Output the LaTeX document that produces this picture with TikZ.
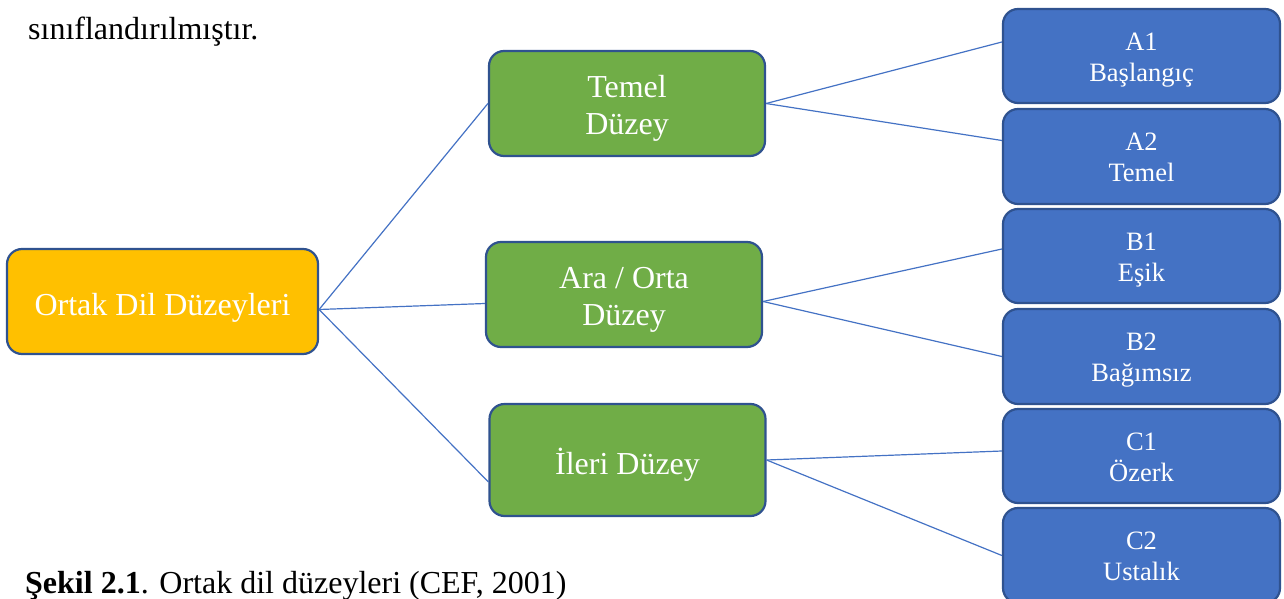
\documentclass[tikz,border=0pt]{standalone}
\usepackage{fontspec}
\setmainfont{Liberation Serif}
\definecolor{rootyellow}{HTML}{FFC000}
\definecolor{levelgreen}{HTML}{70AD47}
\definecolor{stageblue}{HTML}{4472C4}
\definecolor{edgeblue}{HTML}{2F528F}
\newcommand{\twolines}[2]{\begin{tabular}{@{}c@{}}\rule{0pt}{1.1em}#1\\#2\end{tabular}}

\begin{document}
\begin{tikzpicture}[x=1pt, y=-1pt,
    box/.style={draw=edgeblue, line width=2.2pt, rounded corners=15pt, text=white, inner sep=0pt},
    bigtext/.style={font=\fontsize{32}{37}\selectfont},
    rootbox/.style={box, bigtext, fill=rootyellow, minimum width=311pt, minimum height=105pt},
    levelbox/.style={box, bigtext, fill=levelgreen, minimum width=276pt, minimum height=105pt},
    stagebox/.style={box, fill=stageblue, minimum width=277pt, minimum height=94pt, font=\fontsize{26.5}{31}\selectfont},
    link/.style={stageblue, line width=1.2pt}]
        \useasboundingbox (0,0) rectangle (1284,599);

        % Text around the figure
        \node[anchor=base west, inner sep=0pt, font=\fontsize{32}{37}\selectfont] (intro) at (28,40) {sınıflandırılmıştır.};
        \node[anchor=base west, inner sep=0pt, font=\fontsize{32}{37}\selectfont] (caption) at (25,593) {\textbf{Şekil 2.1}. Ortak dil düzeyleri (CEF, 2001)};

        % Root
        \node[rootbox] (root) at (162.5,301.5) {\rule{0pt}{1.1em}Ortak Dil Düzeyleri};

        % Levels
        \node[levelbox] (temel) at (627,103.5) {\twolines{Temel}{Düzey}};
        \node[levelbox] (ara) at (624,294.5) {\twolines{Ara / Orta}{Düzey}};
        \node[levelbox, minimum height=112pt] (ileri) at (627.5,460) {\rule{0pt}{1.1em}İleri Düzey};

        % Stages
        \node[stagebox] (a1) at (1141.5,56) {\twolines{A1}{Başlangıç}};
        \node[stagebox, minimum height=95pt] (a2) at (1141.5,156.5) {\twolines{A2}{Temel}};
        \node[stagebox] (b1) at (1141.5,256) {\twolines{B1}{Eşik}};
        \node[stagebox, minimum height=95pt] (b2) at (1141.5,356.5) {\twolines{B2}{Bağımsız}};
        \node[stagebox] (c1) at (1141.5,456) {\twolines{C1}{Özerk}};
        \node[stagebox, minimum height=95pt] (c2) at (1141.5,555.5) {\twolines{C2}{Ustalık}};

        % Root to levels
        \draw[link] ([yshift=-8pt]root.east) -- (temel.west);
        \draw[link] ([yshift=-8pt]root.east) -- ([yshift=-9pt]ara.west);
        \draw[link] ([yshift=-8pt]root.east) -- ([yshift=-22pt]ileri.west);

        % Levels to stages
        \draw[link] (temel.east) -- ([yshift=14pt]a1.west);
        \draw[link] (temel.east) -- ([yshift=16pt]a2.west);
        \draw[link] ([yshift=-7pt]ara.east) -- ([yshift=7pt]b1.west);
        \draw[link] ([yshift=-7pt]ara.east) -- (b2.west);
        \draw[link] (ileri.east) -- ([yshift=5pt]c1.west);
        \draw[link] (ileri.east) -- (c2.west);
      \end{tikzpicture}
\end{document}
